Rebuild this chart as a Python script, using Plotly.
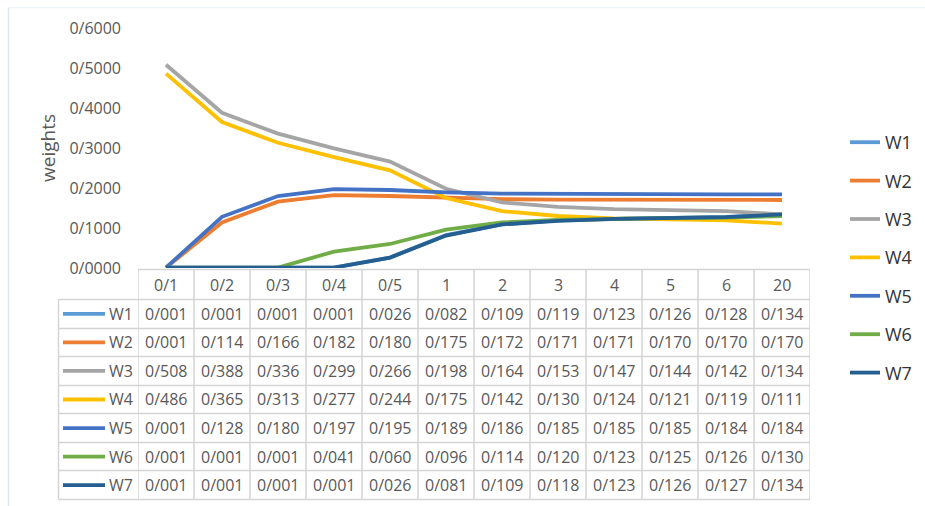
import plotly.graph_objects as go

W, H = 925, 506

categories = ["0/1", "0/2", "0/3", "0/4", "0/5", "1", "2", "3", "4", "5", "6", "20"]
series_names = ["W1", "W2", "W3", "W4", "W5", "W6", "W7"]
w1 = [0.001, 0.001, 0.001, 0.001, 0.026, 0.082, 0.109, 0.119, 0.123, 0.126, 0.128, 0.134]
w2 = [0.001, 0.114, 0.166, 0.182, 0.180, 0.175, 0.172, 0.171, 0.171, 0.170, 0.170, 0.170]
w3 = [0.508, 0.388, 0.336, 0.299, 0.266, 0.198, 0.164, 0.153, 0.147, 0.144, 0.142, 0.134]
w4 = [0.486, 0.365, 0.313, 0.277, 0.244, 0.175, 0.142, 0.130, 0.124, 0.121, 0.119, 0.111]
w5 = [0.001, 0.128, 0.180, 0.197, 0.195, 0.189, 0.186, 0.185, 0.185, 0.185, 0.184, 0.184]
w6 = [0.001, 0.001, 0.001, 0.041, 0.060, 0.096, 0.114, 0.120, 0.123, 0.125, 0.126, 0.130]
w7 = [0.001, 0.001, 0.001, 0.001, 0.026, 0.081, 0.109, 0.118, 0.123, 0.126, 0.127, 0.134]
y_ticks = [0.0, 0.1, 0.2, 0.3, 0.4, 0.5, 0.6]

series_values = [w1, w2, w3, w4, w5, w6, w7]
colors = ["#5B9BD5", "#ED7D31", "#A5A5A5", "#FFC000", "#4472C4", "#70AD47", "#255E91"]

FONT = "Open Sans"
GRAY = "#595959"
GRID = "#D4D4D4"


def fmt_value(v):
    return f"{v:.3f}".replace(".", "/")


def fmt_tick(v):
    return f"{v:.4f}".replace(".", "/")


def px_x(p):
    return p / W


def px_y(p):
    return 1 - p / H


# plot area and table geometry (pixels)
plot_left, plot_right = 138, 810
plot_top, plot_bottom = 28, 268
header_top, header_bottom = 269.5, 299.5
row_h = 28.57
label_left = 58.5

idx = list(range(len(categories)))

fig = go.Figure()
for name, vals, col in zip(series_names, series_values, colors):
    fig.add_trace(go.Scatter(
        x=idx, y=vals, mode="lines", name=name, legendgroup=name,
        line=dict(color=col, width=3.8),
        hoverinfo="skip",
    ))

shapes = []
annotations = []

# chart frame (faint left / top edges)
shapes.append(dict(type="line", xref="paper", yref="paper",
                   x0=px_x(8.5), x1=px_x(8.5), y0=px_y(7), y1=0,
                   line=dict(color="#DCE8F4", width=1.5)))
shapes.append(dict(type="line", xref="paper", yref="paper",
                   x0=px_x(8.5), x1=1, y0=px_y(7.5), y1=px_y(7.5),
                   line=dict(color="#EEF4FB", width=1.5)))

grid_line = dict(color=GRID, width=1.5)

# data table: header row with category labels
table_bottom = header_bottom + row_h * len(series_names)
for i, cat in enumerate(categories):
    annotations.append(dict(x=i, y=px_y((header_top + header_bottom) / 2), xref="x", yref="paper",
                            xanchor="center", yanchor="middle",
                            text=cat, showarrow=False, font=dict(family=FONT, size=16, color=GRAY)))
# vertical grid lines of the table
for i in range(len(categories) + 1):
    shapes.append(dict(type="line", xref="x", yref="paper",
                       x0=i - 0.5, x1=i - 0.5, y0=px_y(header_top), y1=px_y(table_bottom),
                       line=grid_line))
shapes.append(dict(type="line", xref="paper", yref="paper",
                   x0=px_x(label_left), x1=px_x(label_left),
                   y0=px_y(header_bottom), y1=px_y(table_bottom),
                   line=grid_line))
# horizontal grid lines of the table
shapes.append(dict(type="line", xref="x", yref="paper", x0=-0.5, x1=len(categories) - 0.5,
                   y0=px_y(header_top), y1=px_y(header_top), line=grid_line))
for r in range(len(series_names) + 1):
    yy = px_y(round(header_bottom + r * row_h - 0.5) + 0.5)
    shapes.append(dict(type="line", xref="x", yref="paper", x0=-0.5, x1=len(categories) - 0.5,
                       y0=yy, y1=yy, line=grid_line))
    shapes.append(dict(type="line", xref="paper", yref="paper", x0=px_x(label_left), x1=px_x(plot_left),
                       y0=yy, y1=yy, line=grid_line))

# table rows: legend key, series name and values
for r, (name, vals, col) in enumerate(zip(series_names, series_values, colors)):
    cy = px_y(header_bottom + (r + 0.5) * row_h)
    shapes.append(dict(type="line", xref="paper", yref="paper",
                       x0=px_x(63), x1=px_x(105), y0=cy, y1=cy,
                       line=dict(color=col, width=3.8)))
    annotations.append(dict(x=px_x(107), y=cy, xref="paper", yref="paper",
                            xanchor="left", yanchor="middle",
                            text=name, showarrow=False, font=dict(family=FONT, size=16, color=GRAY)))
    for i, v in enumerate(vals):
        annotations.append(dict(x=i, y=cy, xref="x", yref="paper",
                                xanchor="center", yanchor="middle",
                                text=fmt_value(v), showarrow=False,
                                font=dict(family=FONT, size=16, color=GRAY)))

fig.update_layout(
    width=W, height=H,
    margin=dict(l=0, r=0, t=0, b=0, autoexpand=False),
    paper_bgcolor="white", plot_bgcolor="white",
    showlegend=True,
    legend=dict(x=px_x(845), y=px_y(124), xanchor="left", yanchor="top",
                font=dict(family=FONT, size=18, color="#333333"),
                tracegroupgap=12, bgcolor="rgba(0,0,0,0)"),
    xaxis=dict(domain=[px_x(plot_left), px_x(plot_right)], range=[-0.5, len(categories) - 0.5],
               showticklabels=False, showgrid=False, zeroline=False, showline=False, ticks="",
               automargin=False),
    yaxis=dict(domain=[px_y(plot_bottom), px_y(plot_top)], range=[0, 0.6],
               tickvals=y_ticks, ticktext=[fmt_tick(v) for v in y_ticks],
               tickfont=dict(family=FONT, size=16, color=GRAY),
               showgrid=False, zeroline=False, showline=False, ticks="",
               ticklabelstandoff=16, automargin=False,
               title=dict(text="weights", font=dict(family=FONT, size=19, color=GRAY), standoff=8)),
    shapes=shapes,
    annotations=annotations,
)

fig.write_html("out.html")
